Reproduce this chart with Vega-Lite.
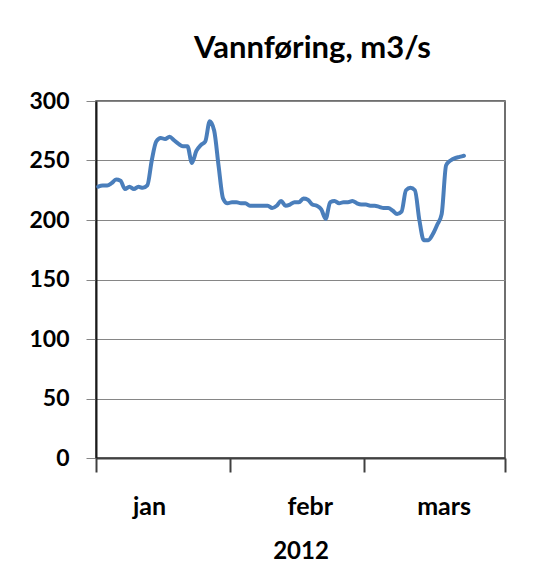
{
  "$schema": "https://vega.github.io/schema/vega-lite/v6.json",
  "width": 409,
  "height": 357,
  "autosize": {"type": "none"},
  "padding": {"left": 96, "top": 101, "right": 55, "bottom": 123},
  "background": "white",
  "title": {
    "text": "Vannføring, m3/s",
    "font": "Lato",
    "fontSize": 31,
    "fontWeight": "bold",
    "color": "#000000",
    "anchor": "middle",
    "dx": 12,
    "offset": 25
  },
  "config": {
    "view": {"stroke": "#404040", "strokeWidth": 1.5},
    "axis": {"labelFont": "Lato", "titleFont": "Lato", "labelColor": "#000000", "titleColor": "#000000"}
  },
  "data": {
    "values": [
      {"dag": 1, "vannforing": 228}, {"dag": 2, "vannforing": 229}, {"dag": 3, "vannforing": 229},
      {"dag": 4, "vannforing": 231}, {"dag": 5, "vannforing": 234}, {"dag": 6, "vannforing": 233},
      {"dag": 7, "vannforing": 226}, {"dag": 8, "vannforing": 228}, {"dag": 9, "vannforing": 226},
      {"dag": 10, "vannforing": 228}, {"dag": 11, "vannforing": 227}, {"dag": 12, "vannforing": 229},
      {"dag": 13, "vannforing": 250}, {"dag": 14, "vannforing": 266}, {"dag": 15, "vannforing": 269},
      {"dag": 16, "vannforing": 268}, {"dag": 17, "vannforing": 270}, {"dag": 18, "vannforing": 267},
      {"dag": 19, "vannforing": 264}, {"dag": 20, "vannforing": 262}, {"dag": 21, "vannforing": 262},
      {"dag": 22, "vannforing": 248}, {"dag": 23, "vannforing": 258}, {"dag": 24, "vannforing": 263},
      {"dag": 25, "vannforing": 266}, {"dag": 26, "vannforing": 283}, {"dag": 27, "vannforing": 275},
      {"dag": 28, "vannforing": 245}, {"dag": 29, "vannforing": 218}, {"dag": 30, "vannforing": 214},
      {"dag": 31, "vannforing": 215}, {"dag": 32, "vannforing": 215}, {"dag": 33, "vannforing": 214},
      {"dag": 34, "vannforing": 214}, {"dag": 35, "vannforing": 212}, {"dag": 36, "vannforing": 212},
      {"dag": 37, "vannforing": 212}, {"dag": 38, "vannforing": 212}, {"dag": 39, "vannforing": 212},
      {"dag": 40, "vannforing": 210}, {"dag": 41, "vannforing": 212}, {"dag": 42, "vannforing": 216},
      {"dag": 43, "vannforing": 212}, {"dag": 44, "vannforing": 213}, {"dag": 45, "vannforing": 215},
      {"dag": 46, "vannforing": 215}, {"dag": 47, "vannforing": 218}, {"dag": 48, "vannforing": 217},
      {"dag": 49, "vannforing": 213}, {"dag": 50, "vannforing": 212}, {"dag": 51, "vannforing": 209},
      {"dag": 52, "vannforing": 201}, {"dag": 53, "vannforing": 215}, {"dag": 54, "vannforing": 216},
      {"dag": 55, "vannforing": 214}, {"dag": 56, "vannforing": 215}, {"dag": 57, "vannforing": 215},
      {"dag": 58, "vannforing": 216}, {"dag": 59, "vannforing": 214}, {"dag": 60, "vannforing": 213},
      {"dag": 61, "vannforing": 213}, {"dag": 62, "vannforing": 212}, {"dag": 63, "vannforing": 212},
      {"dag": 64, "vannforing": 211}, {"dag": 65, "vannforing": 210}, {"dag": 66, "vannforing": 210},
      {"dag": 67, "vannforing": 208}, {"dag": 68, "vannforing": 205}, {"dag": 69, "vannforing": 207},
      {"dag": 70, "vannforing": 225}, {"dag": 71, "vannforing": 227}, {"dag": 72, "vannforing": 225},
      {"dag": 73, "vannforing": 200}, {"dag": 74, "vannforing": 183}, {"dag": 75, "vannforing": 183},
      {"dag": 76, "vannforing": 188}, {"dag": 77, "vannforing": 196}, {"dag": 78, "vannforing": 205},
      {"dag": 79, "vannforing": 246}, {"dag": 80, "vannforing": 250}, {"dag": 81, "vannforing": 252},
      {"dag": 82, "vannforing": 253}, {"dag": 83, "vannforing": 254}
    ]
  },
  "mark": {"type": "line", "color": "#4A7EBB", "strokeWidth": 4, "interpolate": "monotone", "strokeCap": "round", "strokeJoin": "round"},
  "encoding": {
    "x": {
      "field": "dag",
      "type": "quantitative",
      "scale": {"domain": [0.5, 92.2], "nice": false, "zero": false},
      "axis": {
        "title": "2012",
        "titleFontSize": 24,
        "titleFontWeight": "bold",
        "titlePadding": 20,
        "values": [0.5, 30.5, 60.5, 92.2],
        "labelExpr": "datum.value < 1 ? 'jan' : datum.value < 31 ? 'febr' : datum.value < 61 ? 'mars' : ''",
        "labelOffset": {"condition": {"test": "datum.value < 1", "value": 53}, "value": 80},
        "labelFlush": false,
        "labelOverlap": false,
        "labelFontSize": 25,
        "labelFontWeight": "bold",
        "labelPadding": 22,
        "labelBaseline": "top",
        "grid": false,
        "tickSize": 14,
        "tickWidth": 2,
        "tickColor": "#404040",
        "domainColor": "#404040",
        "domainWidth": 2
      }
    },
    "y": {
      "field": "vannforing",
      "type": "quantitative",
      "scale": {"domain": [0, 300], "nice": false},
      "axis": {
        "title": null,
        "values": [0, 50, 100, 150, 200, 250, 300],
        "labelFontSize": 23,
        "labelFontWeight": "bold",
        "labelPadding": 17,
        "tickSize": 10,
        "tickColor": "#868686",
        "tickWidth": 1,
        "gridColor": "#868686",
        "gridWidth": 1,
        "domainColor": "#1a1a1a",
        "domainWidth": 2
      }
    }
  }
}
